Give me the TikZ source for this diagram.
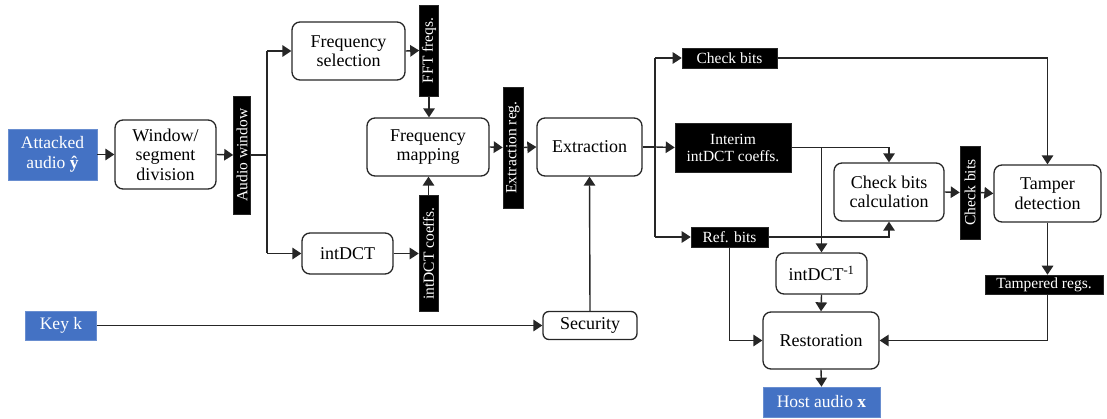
\documentclass[tikz,border=0pt]{standalone}
\usepackage{fontspec}
\setmainfont{Liberation Serif}
\usetikzlibrary{arrows.meta}
\definecolor{myblue}{HTML}{4472C4}
\definecolor{lnc}{HTML}{262626}
\tikzset{
  box/.style={draw=lnc, line width=1.3pt, rounded corners=8pt, align=center, inner sep=0pt,
     font=\fontsize{18}{19.5}\selectfont},
  bluebox/.style={fill=myblue, draw=myblue!80!white, line width=0.6pt, text=white, align=center, inner sep=0pt,
     font=\fontsize{17.5}{19.5}\selectfont},
  lab/.style={fill=black, draw=lnc, line width=0.6pt, text=white, align=center, inner sep=0pt,
     font=\fontsize{15.5}{17}\selectfont},
  vlab/.style={lab, rotate=90},
  arr/.style={draw=lnc, line width=1.4pt, -{Triangle[length=9pt,width=11.5pt]}},
  ln/.style={draw=lnc, line width=1.4pt},
}
\begin{document}
\begin{tikzpicture}[x=1pt,y=-1pt]
\useasboundingbox (0,0) rectangle (1107,419);
% nodes
\node[bluebox, minimum width=89pt, minimum height=51pt] (att) at (52.5,154.5) {Attacked\\audio \textbf{ŷ}};
\node[box, minimum width=101pt, minimum height=69pt] (win) at (165.5,154.5) {Window/\\segment\\division};
\node[vlab, minimum width=118pt, minimum height=17pt] (aw) at (242,155) {Audio window};
\node[box, minimum width=113pt, minimum height=58pt] (fsel) at (348.5,51) {Frequency\\selection};
\node[vlab, minimum width=91pt, minimum height=19pt] (fft) at (429,50.5) {FFT freqs.};
\node[box, minimum width=122pt, minimum height=58pt] (fmap) at (428,147) {Frequency\\mapping};
\node[vlab, minimum width=121pt, minimum height=20pt] (erg) at (513,147.5) {Extraction reg.};
\node[box, minimum width=91pt, minimum height=41pt] (idct) at (347.5,253.5) {intDCT};
\node[vlab, minimum width=116pt, minimum height=19pt] (idc) at (428.5,253.5) {intDCT coeffs.};
\node[box, minimum width=105pt, minimum height=58pt] (ext) at (589.5,147) {Extraction};
\node[box, minimum width=94pt, minimum height=28pt, rounded corners=6pt] (sec) at (590,325.5) {Security};
\node[bluebox, minimum width=71pt, minimum height=29pt] (key) at (61,325.5) {Key k};
\node[lab, minimum width=95pt, minimum height=20pt] (cb) at (729.5,58) {Check bits};
\node[lab, minimum width=116pt, minimum height=49pt] (int) at (733,147.5) {Interim\\intDCT coeffs.};
\node[lab, minimum width=77pt, minimum height=20pt] (ref) at (729.5,237) {Ref. bits};
\node[box, minimum width=110pt, minimum height=58pt] (cbc) at (889,192) {Check bits\\calculation};
\node[vlab, minimum width=93pt, minimum height=20pt] (cbl) at (970,192.5) {Check bits};
\node[box, minimum width=107pt, minimum height=57pt] (tam) at (1047.5,193.5) {Tamper\\detection};
\node[box, minimum width=91pt, minimum height=41pt] (inv) at (821.5,273.5) {intDCT\textsuperscript{-1}};
\node[box, minimum width=116pt, minimum height=57pt] (rest) at (821,340.5) {Restoration};
\node[bluebox, minimum width=117pt, minimum height=30pt] (host) at (821.5,402) {Host audio \textbf{x}};
\node[lab, minimum width=118pt, minimum height=19pt] (treg) at (1044,284.5) {Tampered regs.};
% junction coordinates
\coordinate (j1) at (267,155);
\coordinate (j1t) at (267,51);
\coordinate (j1b) at (267,253.5);
\coordinate (j2) at (655,147);
\coordinate (j2t) at (655,58);
\coordinate (j2b) at (655,237);
% connectors
\draw[arr] (att.east) -- (win.west);
\draw[arr] (win.east) -- (aw.north);
\draw[ln] (aw.south) -- (j1);
\draw[ln] (j1t) -- (j1b);
\draw[arr] (j1t) -- (fsel.west);
\draw[arr] (j1b) -- (idct.west);
\draw[arr] (fsel.east) -- (fft.north);
\draw[arr] (fft.west) -- (fmap.north -| fft.west);
\draw[arr] (idct.east) -- (idc.north);
\draw[arr] (idc.east) -- (fmap.south -| idc.east);
\draw[arr] (fmap.east) -- (erg.north);
\draw[arr] (erg.south) -- (ext.west);
\draw[arr] (key.east) -- (sec.west);
\draw[arr] (sec.north) -- (ext.south);
\draw[ln] (ext.east) -- (j2);
\draw[ln] (j2t) -- (j2b);
\draw[arr] (j2t) -- (cb.west);
\draw[arr] (j2) -- (int.west);
\draw[arr] (j2b) -- (ref.west);
\draw[arr] (cb.east) -| (tam.north);
\draw[arr] (int.east) -| (cbc.north);
\draw[arr] (inv.north |- int.east) -- (inv.north);
\draw[arr] (ref.east) -| (cbc.south);
\draw[arr] (cbc.east) -- (cbl.north);
\draw[arr] (cbl.south) -- (tam.west);
\draw[arr] (tam.south) -- (tam.south |- treg.north);
\draw[arr] (tam.south |- treg.south) |- (rest.east);
\draw[arr] (ref.south) |- (rest.west);
\draw[arr] (inv.south) -- (rest.north);
\draw[arr] (rest.south) -- (host.north);
\end{tikzpicture}
\end{document}
